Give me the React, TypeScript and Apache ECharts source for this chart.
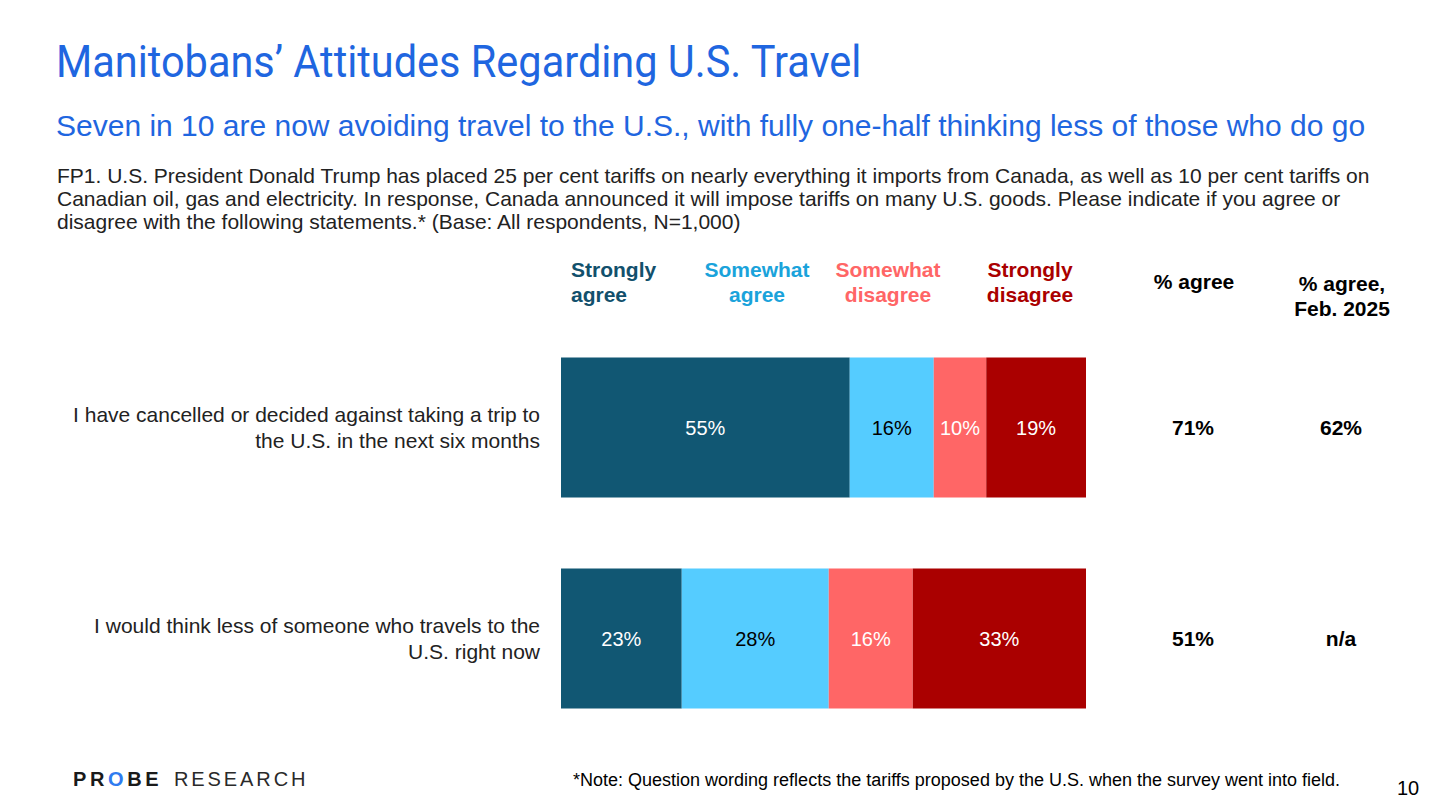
import React, { useEffect, useRef } from "react";
import * as echarts from "echarts";

const statements = [
  "I have cancelled or decided against taking a trip to\nthe U.S. in the next six months",
  "I would think less of someone who travels to the\nU.S. right now",
];
const seriesNames = ["Strongly agree", "Somewhat agree", "Somewhat disagree", "Strongly disagree"];
const stronglyAgree = [55, 23];
const somewhatAgree = [16, 28];
const somewhatDisagree = [10, 16];
const stronglyDisagree = [19, 33];
const pctAgree = ["71%", "51%"];
const pctAgreeFeb = ["62%", "n/a"];

const barColors = ["#115773", "#55CCFF", "#FF6666", "#AA0000"];
const headColors = ["#12506C", "#1AA3DB", "#FF6666", "#AA0000"];
const labelColors = ["#ffffff", "#000000", "#ffffff", "#ffffff"];
const BLUE = "#1F66E0";
const FONT = "'Liberation Sans', Arial, sans-serif";

// logo letters with Arial advance widths (em)
const probeLetters: [string, number][] = [["P", 0.667], ["R", 0.722], ["O", 0.778], ["B", 0.722], ["E", 0.667]];
const researchLetters: [string, number][] = [
  ["R", 0.722], ["E", 0.667], ["S", 0.667], ["E", 0.667], ["A", 0.667], ["R", 0.722], ["C", 0.722], ["H", 0.722],
];

export default function App() {
  const ref = useRef<HTMLDivElement>(null);
  useEffect(() => {
    const chart = echarts.init(ref.current!, null, { renderer: "svg" });
    const values = [stronglyAgree, somewhatAgree, somewhatDisagree, stronglyDisagree];
    const cats = statements.slice().reverse();
    const series = values.map((v, i) => ({
      name: seriesNames[i],
      type: "bar",
      stack: "total",
      data: v.slice().reverse(),
      barWidth: 140,
      itemStyle: { color: barColors[i] },
      label: {
        show: true,
        position: "inside",
        formatter: "{c}%",
        color: labelColors[i],
        fontSize: 20,
        fontFamily: FONT,
      },
    }));
    const revAgree = pctAgree.slice().reverse();
    const revFeb = pctAgreeFeb.slice().reverse();

    const headerText = (text: string, x: number, color: string, align: string) => ({
      type: "text",
      x,
      y: 257,
      style: {
        text,
        fill: color,
        font: `bold 21px ${FONT}`,
        textAlign: align,
        lineHeight: 25,
      },
    });

    const logo: any[] = [];
    let px = 73;
    probeLetters.forEach(([ch, w]) => {
      logo.push({
        type: "text",
        x: px,
        y: 769,
        style: { text: ch, fill: ch === "O" ? "#2F7BF0" : "#1a1a1a", font: `900 20px ${FONT}` },
      });
      px += w * 20 + 3.6;
    });
    px = 174;
    researchLetters.forEach(([ch, w]) => {
      logo.push({
        type: "text",
        x: px,
        y: 769,
        style: { text: ch, fill: "#2a2a2a", font: `20px ${FONT}` },
      });
      px += w * 20 + 2.9;
    });

    chart.setOption({
      animation: false,
      grid: { left: 561, width: 525, top: 322, height: 422 },
      xAxis: { type: "value", min: 0, max: 100, show: false },
      yAxis: [
        {
          type: "category",
          data: cats,
          axisLine: { show: false },
          axisTick: { show: false },
          axisLabel: {
            fontSize: 21,
            fontFamily: FONT,
            color: "#222222",
            lineHeight: 26,
            margin: 21,
            align: "right",
          },
        },
        {
          type: "category",
          data: cats,
          position: "right",
          axisLine: { show: false },
          axisTick: { show: false },
          axisLabel: {
            margin: 32,
            formatter: (_v: string, idx: number) => `{a|${revAgree[idx]}}{b|${revFeb[idx]}}`,
            rich: {
              a: { width: 150, align: "center", fontSize: 21, fontWeight: "bold", fontFamily: FONT, color: "#000" },
              b: { width: 146, align: "center", fontSize: 21, fontWeight: "bold", fontFamily: FONT, color: "#000" },
            },
          },
        },
      ],
      series,
      graphic: [
        {
          type: "text",
          x: 56,
          y: 40,
          scaleX: 0.943,
          style: {
            text: "Manitobans’ Attitudes Regarding U.S. Travel",
            fill: BLUE,
            font: `44px Roboto, Arial, sans-serif`,
          },
        },
        {
          type: "text",
          x: 56,
          y: 110,
          style: {
            text: "Seven in 10 are now avoiding travel to the U.S., with fully one-half thinking less of those who do go",
            fill: BLUE,
            font: `30px ${FONT}`,
          },
        },
        {
          type: "text",
          x: 57,
          y: 164,
          style: {
            text:
              "FP1. U.S. President Donald Trump has placed 25 per cent tariffs on nearly everything it imports from Canada, as well as 10 per cent tariffs on\nCanadian oil, gas and electricity. In response, Canada announced it will impose tariffs on many U.S. goods. Please indicate if you agree or\ndisagree with the following statements.* (Base: All respondents, N=1,000)",
            fill: "#222222",
            font: `21px ${FONT}`,
            lineHeight: 23,
          },
        },
        headerText("Strongly\nagree", 571, headColors[0], "left"),
        headerText("Somewhat\nagree", 757, headColors[1], "center"),
        headerText("Somewhat\ndisagree", 888, headColors[2], "center"),
        headerText("Strongly\ndisagree", 1030, headColors[3], "center"),
        {
          type: "text",
          x: 1194,
          y: 271,
          style: { text: "% agree", fill: "#000", font: `bold 21px ${FONT}`, textAlign: "center" },
        },
        {
          type: "text",
          x: 1342,
          y: 271,
          style: { text: "% agree,\nFeb. 2025", fill: "#000", font: `bold 21px ${FONT}`, textAlign: "center", lineHeight: 25 },
        },
        ...logo,
        {
          type: "text",
          x: 573,
          y: 771,
          style: {
            text: "*Note: Question wording reflects the tariffs proposed by the U.S. when the survey went into field.",
            fill: "#000",
            font: `18px ${FONT}`,
          },
        },
        {
          type: "text",
          x: 1397,
          y: 778,
          style: { text: "10", fill: "#000", font: `20px ${FONT}` },
        },
      ],
    });
    return () => chart.dispose();
  }, []);
  return (
    <div
      ref={ref}
      style={{ position: "absolute", left: 0, top: 0, width: 1437, height: 800, background: "#fff" }}
    />
  );
}
